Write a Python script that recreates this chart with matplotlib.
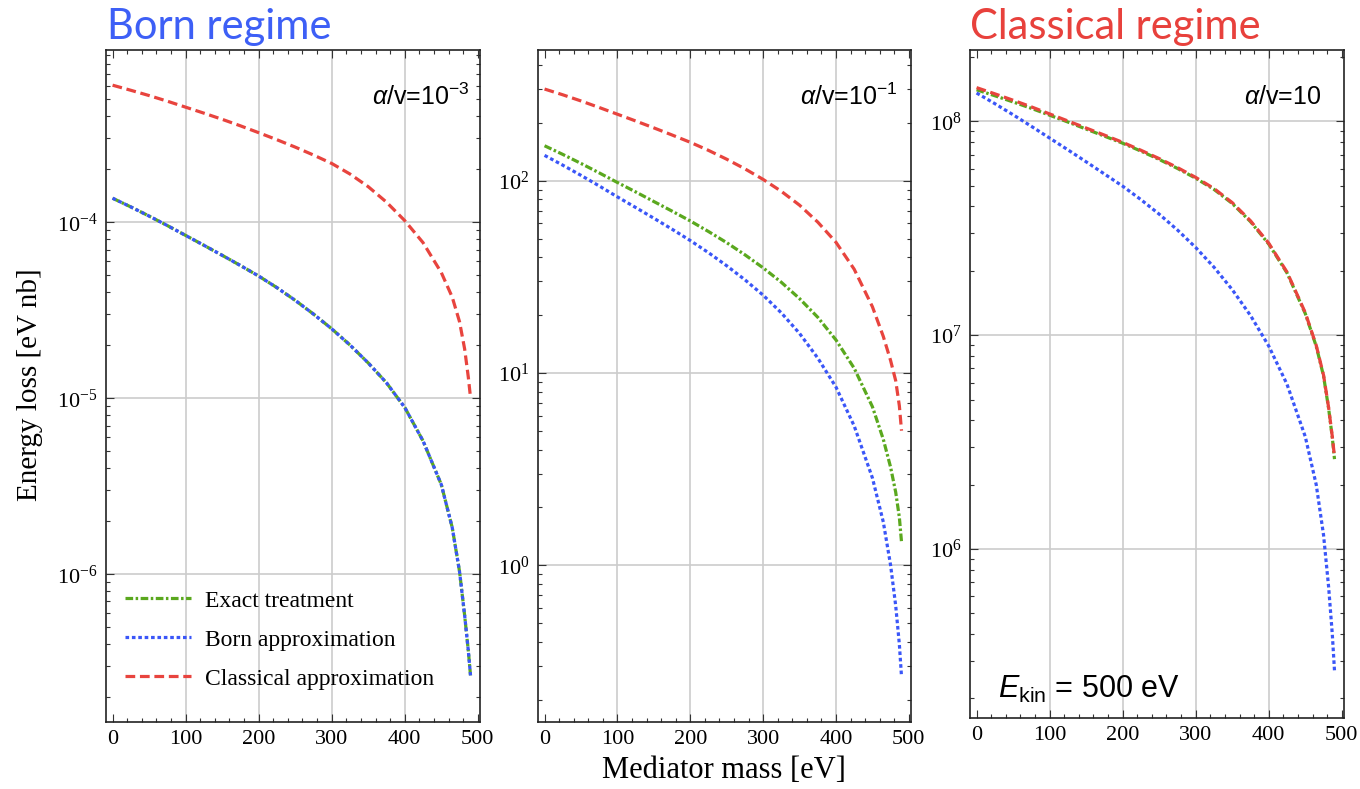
import numpy as np
import matplotlib
matplotlib.use("Agg")
import matplotlib.pyplot as plt
from matplotlib.ticker import LogLocator, NullFormatter, MultipleLocator

plt.rcParams["font.family"] = "Liberation Serif"
plt.rcParams["mathtext.fontset"] = "custom"
plt.rcParams["mathtext.rm"] = "Liberation Sans"
plt.rcParams["mathtext.it"] = "Liberation Sans:italic"
plt.rcParams["mathtext.sf"] = "Liberation Sans"
plt.rcParams["lines.scale_dashes"] = False

# ==============================
# DATA
# ==============================
# mediator mass [eV]
mass = np.array([0, 25, 50, 75, 100, 125, 150, 175, 200, 225, 250, 275, 300, 325, 350, 375, 400,
                 425, 450, 465, 475, 482, 487, 490])

# log10 of energy loss [eV nb], alpha/v = 1e-3 (Born regime)
born1_exact = [-3.8625, -3.912, -3.964, -4.018, -4.074, -4.130, -4.187, -4.245, -4.305, -4.371, -4.443, -4.521,
               -4.605, -4.697, -4.799, -4.912, -5.052, -5.242, -5.49, -5.735, -5.985, -6.235, -6.435, -6.575]
born1_born = [-3.8625, -3.912, -3.964, -4.018, -4.074, -4.130, -4.187, -4.245, -4.305, -4.371, -4.443, -4.521,
              -4.605, -4.697, -4.799, -4.912, -5.052, -5.242, -5.49, -5.735, -5.985, -6.235, -6.435, -6.575]
born1_class = [-3.22, -3.249, -3.279, -3.311, -3.345, -3.379, -3.414, -3.451, -3.490, -3.530, -3.572, -3.617,
               -3.665, -3.725, -3.797, -3.885, -3.99, -4.115, -4.285, -4.425, -4.565, -4.72, -4.88, -4.995]

# alpha/v = 1e-1
mid_exact = [2.182, 2.137, 2.090, 2.041, 1.991, 1.942, 1.892, 1.842, 1.791, 1.736, 1.678, 1.615,
             1.547, 1.472, 1.387, 1.290, 1.172, 1.025, 0.825, 0.655, 0.51, 0.38, 0.25, 0.12]
mid_born = [2.132, 2.081, 2.028, 1.973, 1.916, 1.861, 1.805, 1.748, 1.689, 1.626, 1.558, 1.485,
            1.405, 1.313, 1.206, 1.078, 0.927, 0.725, 0.455, 0.225, 0.0, -0.21, -0.41, -0.58]
mid_class = [2.477, 2.447, 2.415, 2.381, 2.346, 2.311, 2.275, 2.238, 2.200, 2.158, 2.112, 2.062,
             2.007, 1.945, 1.873, 1.785, 1.68, 1.54, 1.345, 1.19, 1.065, 0.96, 0.83, 0.70]

# alpha/v = 10 (Classical regime)
cls_exact = [8.148, 8.120, 8.091, 8.061, 8.029, 7.997, 7.964, 7.931, 7.898, 7.861, 7.822, 7.780,
             7.734, 7.682, 7.616, 7.531, 7.426, 7.291, 7.101, 6.948, 6.809, 6.656, 6.52, 6.42]
cls_born = [8.133, 8.083, 8.031, 7.977, 7.922, 7.867, 7.811, 7.754, 7.697, 7.634, 7.566, 7.492,
            7.41, 7.318, 7.213, 7.092, 6.949, 6.77, 6.525, 6.30, 6.065, 5.82, 5.60, 5.43]
cls_class = [8.158, 8.129, 8.099, 8.068, 8.035, 8.002, 7.969, 7.936, 7.902, 7.865, 7.826, 7.784,
             7.738, 7.686, 7.620, 7.535, 7.43, 7.295, 7.105, 6.952, 6.813, 6.66, 6.525, 6.43]

labels = ["Exact treatment", "Born approximation", "Classical approximation"]
annotations = [r"$\alpha$/v=10$^{-3}$", r"$\alpha$/v=10$^{-1}$", r"$\alpha$/v=10"]
ylims_log = [(-6.84, -3.02), (-0.815, 2.68), (5.209, 8.334)]

GREEN = "#5aa81e"
BLUE = "#3a56f8"
RED = "#e8443e"

# axes boxes in figure fraction [left, bottom, width, height]
AX_POS = [
    [106 / 1360, 67 / 789, 374 / 1360, 672 / 789],
    [538 / 1360, 67 / 789, 373 / 1360, 672 / 789],
    [970 / 1360, 71 / 789, 374 / 1360, 668 / 789],
]
ANN_X = [0.973, 0.965, 0.94]

panels = [
    (born1_exact, born1_born, born1_class),
    (mid_exact, mid_born, mid_class),
    (cls_exact, cls_born, cls_class),
]

fig = plt.figure(figsize=(13.6, 7.89), dpi=100)

for i, (exact, born, classical) in enumerate(panels):
    ax = fig.add_axes(AX_POS[i])
    ax.set_yscale("log")

    lw = 2.3
    ax.plot(mass, 10 ** np.array(exact), color=GREEN, lw=lw, dashes=(5.5, 1.8, 1.8, 1.8), label=labels[0])
    ax.plot(mass, 10 ** np.array(born), color=BLUE, lw=lw, dashes=(2.6, 2.0), label=labels[1])
    ax.plot(mass, 10 ** np.array(classical), color=RED, lw=lw, dashes=(7.0, 3.4), label=labels[2])

    ax.set_xlim(-9, 503)
    lo, hi = ylims_log[i]
    ax.set_ylim(10 ** lo, 10 ** hi)

    ax.xaxis.set_major_locator(MultipleLocator(100))
    ax.xaxis.set_minor_locator(MultipleLocator(20))
    ax.yaxis.set_major_locator(LogLocator(base=10))
    ax.yaxis.set_minor_locator(LogLocator(base=10, subs=np.arange(2, 10)))
    ax.yaxis.set_minor_formatter(NullFormatter())

    # grid only at the inner x ticks and the decades
    for gx in [100, 200, 300, 400]:
        ax.axvline(gx, color="#cccccc", lw=1.2, zorder=0)
    ax.grid(axis="y", which="major", color="#cccccc", lw=1.2, zorder=0)

    ax.tick_params(which="both", direction="in", top=True, right=True, color="#333333", width=0.8)
    ax.tick_params(which="major", length=6, labelsize=16, pad=6)
    ax.tick_params(which="minor", length=3)
    for sp in ax.spines.values():
        sp.set_color("#222222")
        sp.set_linewidth(1.2)

    ax.text(ANN_X[i], 0.93, annotations[i], transform=ax.transAxes, ha="right", va="center",
            fontsize=18, family="Liberation Sans")

    if i == 0:
        ax.legend(loc="lower left", bbox_to_anchor=(0.05, 0.048), frameon=False, fontsize=17,
                  handlelength=2.8, handletextpad=0.62, labelspacing=0.74, borderpad=0,
                  borderaxespad=0)
    if i == 2:
        ax.text(0.075, 0.042, r"$E_{\mathrm{kin}}$ = 500 eV", transform=ax.transAxes,
                ha="left", va="center", fontsize=22, family="Liberation Sans")

fig.text(107 / 1360, 1 - 27 / 789, "Born regime", color="#3d5ff6", fontsize=30,
         family="Lato", ha="left", va="center")
fig.text(970 / 1360, 1 - 27 / 789, "Classical regime", color="#e8413c", fontsize=30,
         family="Lato", ha="left", va="center")

fig.text(30 / 1360, 1 - 385 / 789, "Energy loss [eV nb]", rotation=90, fontsize=21,
         ha="center", va="center")
fig.text(724 / 1360, 1 - 770 / 789, "Mediator mass [eV]", fontsize=22, ha="center", va="center")

fig.savefig("out.png", dpi=100)
